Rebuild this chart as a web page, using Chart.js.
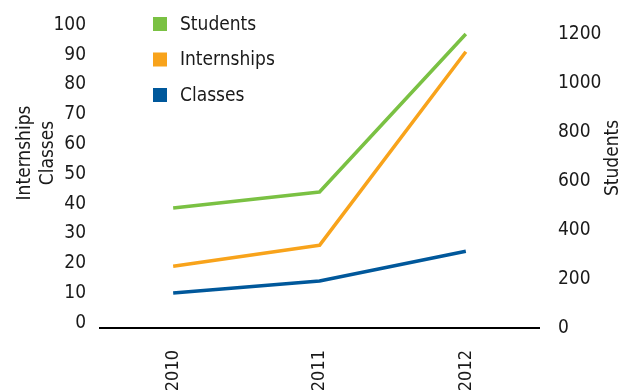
<!DOCTYPE html>
<html>
<head>
<meta charset="utf-8">
<script src="https://cdn.jsdelivr.net/npm/chart.js@4/dist/chart.umd.min.js"></script>
<style>
  html, body { margin: 0; padding: 0; background: #fff; }
  #wrap { width: 622px; height: 390px; }
</style>
</head>
<body>
<div id="wrap"><canvas id="growthChart" width="622" height="390"></canvas></div>
<script>
var years = ["2010", "2011", "2012"];
var students = [490, 555, 1200];
var internships = [19, 26, 91];
var classes = [10, 14, 24];
var leftTicks = [0, 10, 20, 30, 40, 50, 60, 70, 80, 90, 100];
var rightTicks = [0, 200, 400, 600, 800, 1000, 1200];

var FONT = "'Liberation Sans Narrow', 'DejaVu Sans Condensed', sans-serif";
var TEXT = "#1a1a1a";

var canvas = document.getElementById("growthChart");
var ctx = canvas.getContext("2d");

// axis titles and the stacked legend are drawn by hand
var sideTextPlugin = {
  id: "sideText",
  afterDraw: function (chart) {
    var c = chart.ctx;
    c.save();
    c.fillStyle = TEXT;
    c.font = "19px " + FONT;
    c.textAlign = "center";
    c.textBaseline = "middle";

    c.save();
    c.translate(25, 153);
    c.rotate(-Math.PI / 2);
    c.fillText("Internships", 0, 0);
    c.restore();

    c.save();
    c.translate(48, 153);
    c.rotate(-Math.PI / 2);
    c.fillText("Classes", 0, 0);
    c.restore();

    c.save();
    c.translate(613, 158);
    c.rotate(-Math.PI / 2);
    c.fillText("Students", 0, 0);
    c.restore();

    // legend, one row per dataset
    c.textAlign = "left";
    var rows = [24, 59.5, 95];
    chart.data.datasets.forEach(function (ds, i) {
      c.fillStyle = ds.borderColor;
      c.fillRect(153, rows[i] - 7, 14, 14);
      c.fillStyle = TEXT;
      c.fillText(ds.label, 180, rows[i] + 1);
    });
    c.restore();
  },
};

function plainLabel(value) {
  return String(value);
}

// fixed axis widths; drop the label overhang so the plot top is set by layout padding
function fixWidth(w) {
  return function (scale) {
    scale.width = w;
    scale.paddingTop = 0;
    scale.paddingBottom = 0;
  };
}

var growthChart = new Chart(ctx, {
  type: "line",
  data: {
    labels: years,
    datasets: [
      {
        label: "Students",
        data: students,
        yAxisID: "yRight",
        borderColor: "#7AC143",
        backgroundColor: "#7AC143",
      },
      {
        label: "Internships",
        data: internships,
        yAxisID: "yLeft",
        borderColor: "#F8A31B",
        backgroundColor: "#F8A31B",
      },
      {
        label: "Classes",
        data: classes,
        yAxisID: "yLeft",
        borderColor: "#00589B",
        backgroundColor: "#00589B",
      },
    ],
  },
  plugins: [sideTextPlugin],
  options: {
    responsive: false,
    animation: false,
    layout: { padding: { top: 25, left: 0, right: 0, bottom: 0 } },
    elements: {
      line: { borderWidth: 3.5, tension: 0, borderJoinStyle: "round" },
      point: { radius: 0, hoverRadius: 0 },
    },
    plugins: {
      legend: { display: false },
      tooltip: { enabled: false },
    },
    scales: {
      x: {
        offset: true,
        grid: { display: false, drawTicks: false },
        border: { display: true, color: "#000", width: 2 },
        ticks: {
          color: TEXT,
          font: { family: FONT, size: 18 },
          minRotation: 90,
          maxRotation: 90,
          padding: 22,
        },
        afterFit: function (scale) {
          scale.height = 62;
        },
      },
      yLeft: {
        position: "left",
        min: -1.77,
        max: 100,
        grid: { display: false, drawTicks: false },
        border: { display: false },
        ticks: {
          color: TEXT,
          font: { family: FONT, size: 19 },
          padding: 14,
          callback: plainLabel,
        },
        afterBuildTicks: function (scale) {
          scale.ticks = leftTicks.map(function (v) { return { value: v }; });
        },
        afterFit: fixWidth(100),
      },
      yRight: {
        position: "right",
        min: 0,
        max: 1237,
        grid: { display: false, drawTicks: false },
        border: { display: false },
        ticks: {
          color: TEXT,
          font: { family: FONT, size: 19 },
          padding: 19,
          callback: plainLabel,
        },
        afterBuildTicks: function (scale) {
          scale.ticks = rightTicks.map(function (v) { return { value: v }; });
        },
        afterFit: fixWidth(83),
      },
    },
  },
});
</script>
</body>
</html>
